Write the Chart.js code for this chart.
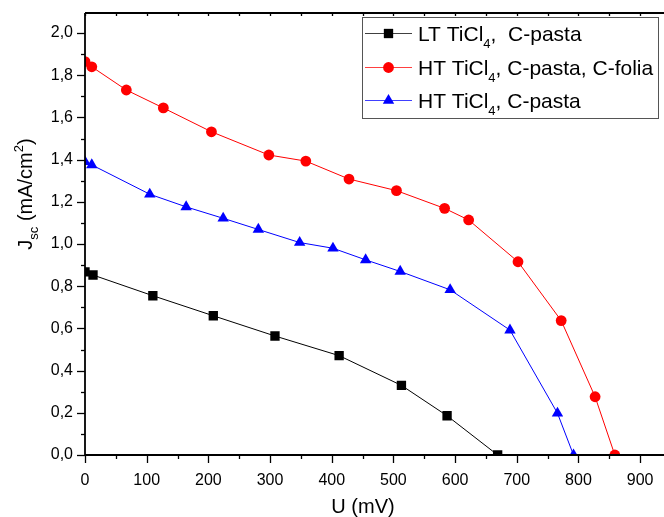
<!DOCTYPE html>
<html>
<head>
<meta charset="utf-8">
<script src="https://cdn.jsdelivr.net/npm/chart.js@4/dist/chart.umd.min.js"></script>
<style>
  html, body { margin: 0; padding: 0; background: #fff; overflow: hidden; }
  canvas { display: block; }
</style>
</head>
<body>
<canvas id="jv" width="664" height="517"></canvas>
<script>
// J-V curves: short-circuit current density vs. voltage
const seriesNames = [
  [['LT TiCl', 'n'], ['4', 'sub'], [',  C-pasta', 'n']],
  [['HT TiCl', 'n'], ['4', 'sub'], [', C-pasta, C-folia', 'n']],
  [['HT TiCl', 'n'], ['4', 'sub'], [', C-pasta', 'n']]
];

// LT TiCl4, C-pasta
const uLT = [0, 13, 110, 208, 308, 412, 513, 587, 669];
const jLT = [0.868, 0.853, 0.755, 0.660, 0.564, 0.471, 0.330, 0.186, 0.0];

// HT TiCl4, C-pasta, C-folia
const uHTF = [0, 11, 67, 127, 205, 298, 358, 428, 505, 583, 622, 702, 772, 827, 859];
const jHTF = [1.865, 1.840, 1.730, 1.645, 1.532, 1.422, 1.393, 1.308, 1.253, 1.169, 1.114, 0.916, 0.637, 0.276, 0.0];

// HT TiCl4, C-pasta
const uHT = [0, 11, 105, 164, 224, 281, 348, 402, 455, 511, 592, 689, 766, 792];
const jHT = [1.390, 1.375, 1.236, 1.176, 1.122, 1.069, 1.007, 0.980, 0.925, 0.870, 0.783, 0.592, 0.198, 0.0];

const xTickStep = 100;
const yTickStep = 0.2;

const FONT = '"Liberation Sans", Arial, sans-serif';

const toPoints = (xs, ys) => xs.map((v, i) => ({ x: v, y: ys[i] }));

function drawMarker(ctx, style, r, x, y) {
  ctx.beginPath();
  if (style === 'rect') {
    const s = Math.SQRT1_2 * r;
    ctx.rect(x - s, y - s, 2 * s, 2 * s);
  } else if (style === 'triangle') {
    let rad = 0;
    ctx.moveTo(x + Math.sin(rad) * r, y - Math.cos(rad) * r);
    rad += 2 * Math.PI / 3;
    ctx.lineTo(x + Math.sin(rad) * r, y - Math.cos(rad) * r);
    rad += 2 * Math.PI / 3;
    ctx.lineTo(x + Math.sin(rad) * r, y - Math.cos(rad) * r);
    ctx.closePath();
  } else {
    ctx.arc(x, y, r, 0, Math.PI * 2);
  }
  ctx.fill();
}

function drawRich(ctx, parts, x, baseline, size, subSize, subShift, supShift) {
  let cx = x;
  for (const [txt, kind] of parts) {
    let fs = size, dy = 0;
    if (kind === 'sub') { fs = subSize; dy = subShift; }
    if (kind === 'sup') { fs = subSize; dy = -supShift; }
    ctx.font = fs + 'px ' + FONT;
    ctx.fillText(txt, cx, baseline + dy);
    cx += ctx.measureText(txt).width;
  }
  return cx - x;
}

function richWidth(ctx, parts, size, subSize) {
  let w = 0;
  for (const [txt, kind] of parts) {
    ctx.font = (kind === 'n' ? size : subSize) + 'px ' + FONT;
    w += ctx.measureText(txt).width;
  }
  return w;
}

// axes frame, tick marks, axis titles and legend
const framePlugin = {
  id: 'frame',
  afterDraw(chart) {
    const { ctx, chartArea: a, scales: { x, y } } = chart;
    ctx.save();
    ctx.strokeStyle = '#000';
    ctx.fillStyle = '#000';

    // tick marks
    ctx.lineWidth = 1.3;
    for (let v = 0; v <= x.max; v += 50) {
      const px = Math.round(x.getPixelForValue(v)) + 0.5;
      const major = v % 100 === 0;
      ctx.beginPath();
      ctx.moveTo(px, a.bottom);
      ctx.lineTo(px, a.bottom + (major ? 8 : 4));
      ctx.moveTo(px, a.top);
      ctx.lineTo(px, a.top + 3);
      ctx.stroke();
    }
    for (let i = 0; i / 10 <= y.max + 1e-9; i++) {
      const py = Math.round(y.getPixelForValue(i / 10)) + 0.5;
      const major = i % 2 === 0;
      ctx.beginPath();
      ctx.moveTo(a.left, py);
      ctx.lineTo(a.left - (major ? 8 : 4), py);
      ctx.stroke();
    }

    // axis lines (top and bottom run to the canvas edge)
    ctx.lineWidth = 1.8;
    ctx.beginPath();
    ctx.moveTo(a.left, a.top);
    ctx.lineTo(a.left, a.bottom);
    ctx.lineTo(chart.width, a.bottom);
    ctx.moveTo(a.left, a.top);
    ctx.lineTo(chart.width, a.top);
    ctx.stroke();

    // x axis title
    ctx.textBaseline = 'alphabetic';
    ctx.textAlign = 'left';
    ctx.font = '20px ' + FONT;
    const xt = 'U (mV)';
    const xw = ctx.measureText(xt).width;
    ctx.fillText(xt, 363 - xw / 2, 513);

    // y axis title
    const yParts = [['J', 'n'], ['sc', 'sub'], [' (mA/cm', 'n'], ['2', 'sup'], [')', 'n']];
    ctx.save();
    ctx.translate(24, 194);
    ctx.rotate(-Math.PI / 2);
    const yw = richWidth(ctx, yParts, 20, 13);
    drawRich(ctx, yParts, -yw / 2, 7.5, 20, 13, 6, 9);
    ctx.restore();

    // legend
    const lx = 362.5, ly = 17.5, lw = 296, lh = 101;
    ctx.fillStyle = '#fff';
    ctx.fillRect(lx, ly, lw, lh);
    ctx.strokeStyle = '#555';
    ctx.lineWidth = 1;
    ctx.strokeRect(lx, ly, lw, lh);
    const rows = [33, 67, 100];
    chart.data.datasets.forEach((ds, i) => {
      const ry = rows[i];
      ctx.strokeStyle = ds.borderColor;
      ctx.globalAlpha = 0.75;
      ctx.lineWidth = 1;
      ctx.beginPath();
      ctx.moveTo(365, ry + 0.5);
      ctx.lineTo(412, ry + 0.5);
      ctx.stroke();
      ctx.globalAlpha = 1;
      ctx.fillStyle = ds.pointBackgroundColor;
      drawMarker(ctx, ds.pointStyle, ds.pointRadius, 388.5, ry + 0.5);
      ctx.fillStyle = '#000';
      drawRich(ctx, seriesNames[i], 418, ry + 7.5, 21, 13, 7, 8);
    });

    ctx.restore();
  }
};

const lineDs = (label, xs, ys, color, style, r) => ({
  label,
  data: toPoints(xs, ys),
  showLine: true,
  borderColor: color,
  borderWidth: 1,
  backgroundColor: color,
  pointBackgroundColor: color,
  pointBorderColor: color,
  pointBorderWidth: 0,
  pointStyle: style,
  pointRadius: r,
  pointHoverRadius: r,
  tension: 0
});

const noPad = s => {
  s.paddingLeft = 0; s.paddingRight = 0; s.paddingTop = 0; s.paddingBottom = 0;
};

new Chart(document.getElementById('jv'), {
  type: 'scatter',
  data: {
    datasets: [
      lineDs('LT TiCl4,  C-pasta', uLT, jLT, '#000000', 'rect', 6.6),
      lineDs('HT TiCl4, C-pasta, C-folia', uHTF, jHTF, '#ff0000', 'circle', 5.4),
      lineDs('HT TiCl4, C-pasta', uHT, jHT, '#0000ff', 'triangle', 6.6)
    ]
  },
  options: {
    responsive: false,
    devicePixelRatio: 1,
    animation: false,
    layout: { padding: { top: 13, right: 1, left: 0, bottom: 0 } },
    plugins: {
      legend: { display: false },
      tooltip: { enabled: false }
    },
    scales: {
      x: {
        type: 'linear',
        min: 0,
        max: 928,
        afterFit: s => { s.height = 62; noPad(s); },
        border: { display: false },
        grid: { display: false, drawTicks: false },
        ticks: {
          stepSize: xTickStep,
          includeBounds: false,
          autoSkip: false,
          padding: 16,
          maxRotation: 0,
          color: '#000',
          font: { family: FONT, size: 16 },
          callback: v => (v % xTickStep === 0 ? String(v) : '')
        }
      },
      y: {
        type: 'linear',
        min: 0,
        max: 2.095,
        afterFit: s => { s.width = 85; noPad(s); },
        border: { display: false },
        grid: { display: false, drawTicks: false },
        ticks: {
          stepSize: yTickStep,
          includeBounds: false,
          autoSkip: false,
          padding: 12,
          color: '#000',
          font: { family: FONT, size: 16 },
          callback: v => {
            const k = Math.round(v * 10);
            if (Math.abs(v * 10 - k) > 1e-6 || k % 2 !== 0) return '';
            return (k / 10).toFixed(1).replace('.', ',');
          }
        }
      }
    }
  },
  plugins: [framePlugin]
});
</script>
</body>
</html>
